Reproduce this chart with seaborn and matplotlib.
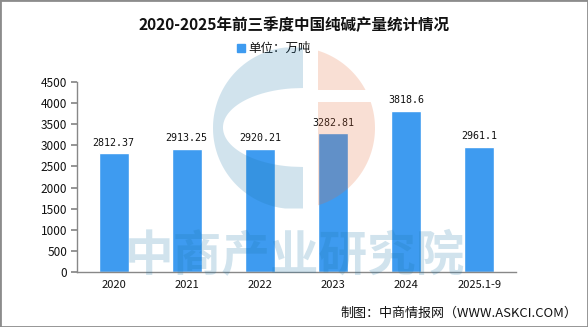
import matplotlib
matplotlib.use("Agg")
import matplotlib.pyplot as plt
from matplotlib.patches import Rectangle, Polygon
import seaborn as sns
import pandas as pd
import numpy as np

years = ["2020", "2021", "2022", "2023", "2024", "2025.1-9"]
output = [2812.37, 2913.25, 2920.21, 3282.81, 3818.6, 2961.1]
labels = ["2812.37", "2913.25", "2920.21", "3282.81", "3818.6", "2961.1"]
y_ticks = [0, 500, 1000, 1500, 2000, 2500, 3000, 3500, 4000, 4500]

title = "2020-2025年前三季度中国纯碱产量统计情况"
unit = "单位：万吨"
source = "制图：中商情报网（WWW.ASKCI.COM）"
watermark = "中商产业研究院"

sns.set_theme(style="white")
plt.rcParams["font.family"] = ["Noto Sans CJK SC", "DejaVu Sans"]

W, H = 588, 327
fig = plt.figure(figsize=(W / 100, H / 100), dpi=100)
fig.patch.set_facecolor("white")

ax = fig.add_axes([77 / W, 1 - 272 / H, (516 - 77) / W, (272 - 82) / H])
df = pd.DataFrame({"year": years, "value": output})
bar_color = "#3E9BF0"
sns.barplot(data=df, x="year", y="value", color=bar_color, width=0.41,
            saturation=1, ax=ax, zorder=2)

for i, (v, t) in enumerate(zip(output, labels)):
    ax.annotate(t, (i, v), xytext=(0, 4), textcoords="offset points",
                ha="center", va="bottom", fontsize=7.2, color="#111111",
                family=["DejaVu Sans Mono"])

ax.set_xlim(-0.5, len(years) - 0.5)
ax.set_ylim(0, 4500)
ax.set_yticks(y_ticks)
ax.set_yticklabels([str(t) for t in y_ticks], fontsize=8.5, color="#111111")
ax.set_xticks(range(len(years)))
ax.set_xticklabels(years, fontsize=8, color="#111111")
ax.set_xticks([i - 0.5 for i in range(len(years) + 1)], minor=True)
ax.tick_params(axis="x", which="major", length=0, pad=6)
ax.tick_params(axis="x", which="minor", length=4, color="#888888", direction="out")
ax.tick_params(axis="y", length=4, color="#888888", direction="out", left=True, pad=3)
ax.set_xlabel("")
ax.set_ylabel("")
for side in ("top", "right"):
    ax.spines[side].set_visible(False)
for side in ("left", "bottom"):
    ax.spines[side].set_color("#888888")
    ax.spines[side].set_linewidth(1)
ax.set_facecolor("none")

# Title, legend and credit line
fig.text(0.5, 1 - 25 / H, title, ha="center", va="center", fontsize=11.2,
         fontweight="bold", color="#111111")
fig.patches.append(Rectangle((237 / W, 1 - 52 / H), 8 / W, 8 / H,
                             transform=fig.transFigure, color=bar_color))
fig.text(248 / W, 1 - 48 / H, unit, ha="left", va="center", fontsize=9,
         color="#111111")
fig.text(577 / W, 1 - 313 / H, source, ha="right", va="center", fontsize=9.4,
         color="#111111")

# Logo and wordmark overlay (pixel coordinates, y downwards)
ov = fig.add_axes([0, 0, 1, 1], zorder=5)
ov.set_xlim(0, W)
ov.set_ylim(H, 0)
ov.axis("off")
ov.patch.set_alpha(0)
blue_ink, salmon_ink = "#1A76A8", "#E76B37"
cx, cy, r = 294, 128, 81
gap_l, gap_r = 303, 318


def circle_half(ys, side):
    return cx + side * np.sqrt(np.maximum(r ** 2 - (ys - cy) ** 2, 0))


# blue "C": disc left of the gap, minus a flattened inner ellipse
half_h = np.sqrt(r ** 2 - (gap_l - cx) ** 2)
ys_out = np.linspace(cy - half_h, cy + half_h, 200)
outer = np.column_stack([circle_half(ys_out, -1), ys_out])
outer = np.vstack([[gap_l, ys_out[0]], outer, [gap_l, ys_out[-1]]])
ex, ey, ea, eb = 303, 127.5, 80, 39.5
ys_in = np.linspace(ey + eb, ey - eb, 200)
inner = np.column_stack(
    [ex - ea * np.sqrt(np.maximum(1 - ((ys_in - ey) / eb) ** 2, 0)), ys_in])
ov.add_patch(Polygon(np.vstack([outer, inner]), closed=True,
                     facecolor=blue_ink, alpha=0.2, lw=0))


# salmon part: disc right of the gap, split by a horizontal notch
def salmon_piece(y0, y1):
    ys = np.linspace(y0, y1, 200)
    xs = circle_half(ys, 1)
    keep = xs >= gap_r
    pts = np.column_stack([xs[keep], ys[keep]])
    return np.vstack([[gap_r, pts[0, 1]], pts, [gap_r, pts[-1, 1]]])


for y0, y1 in [(cy - r, 90), (102, cy + r)]:
    ov.add_patch(Polygon(salmon_piece(y0, y1), closed=True,
                         facecolor=salmon_ink, alpha=0.21, lw=0))

ov.text(295, 257, watermark, ha="center", va="center", fontsize=35,
        fontweight="bold", color=blue_ink, alpha=0.2)

# Outer frame
fig.patches.append(Rectangle((0, 0), 1, 1, transform=fig.transFigure,
                             fill=False, edgecolor="#8c8c8c", lw=2))

fig.savefig("out.png", dpi=100)
